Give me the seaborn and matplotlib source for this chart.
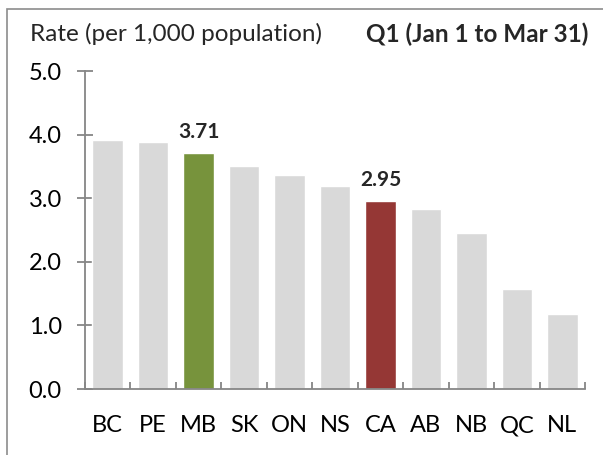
import numpy as np
import pandas as pd
import matplotlib
matplotlib.use("Agg")
import matplotlib.pyplot as plt
from matplotlib.patches import Rectangle
import seaborn as sns

# ── DATA ─────────────────────────────────────────────────────
provinces = ["BC", "PE", "MB", "SK", "ON", "NS", "CA", "AB", "NB", "QC", "NL"]
rates     = [3.92, 3.89, 3.71, 3.50, 3.37, 3.19, 2.95, 2.83, 2.46, 1.58, 1.18]
labelled  = {"MB": "3.71", "CA": "2.95"}

GREY  = "#D9D9D9"
GREEN = "#77933C"
RED   = "#953735"
AXIS  = "#868686"

colors = {p: GREY for p in provinces}
colors["MB"] = GREEN
colors["CA"] = RED

df = pd.DataFrame({"prov": provinces, "rate": rates})

# ── STYLE ────────────────────────────────────────────────────
sns.set_style("white")
plt.rcParams["font.family"] = ["Lato", "DejaVu Sans"]

W, H = 603, 455
fig = plt.figure(figsize=(W / 100, H / 100), dpi=100)
ax = fig.add_axes([85 / W, 1 - 389 / H, 500 / W, (389 - 71) / H])

sns.barplot(data=df, x="prov", y="rate", hue="prov", palette=colors,
            legend=False, width=0.67, saturation=1, ax=ax)

ax.set_ylim(0, 5.0)
ax.set_xlim(-0.5, len(provinces) - 0.5)
ax.set_yticks(np.arange(0, 5.01, 1.0))
ax.set_yticklabels([f"{v:.1f}" for v in np.arange(0, 5.01, 1.0)])
ax.set_xlabel("")
ax.set_ylabel("")

for s in ["top", "right"]:
    ax.spines[s].set_visible(False)
for s in ["left", "bottom"]:
    ax.spines[s].set_color(AXIS)
    ax.spines[s].set_linewidth(1.3)

ax.tick_params(axis="y", left=True, direction="inout", length=11.5,
               width=1.3, color=AXIS, labelsize=17, pad=11,
               labelcolor="black")
ax.tick_params(axis="x", which="major", bottom=False, length=0,
               labelsize=17, pad=19, labelcolor="black")
ax.set_xticks(np.arange(-0.5, len(provinces), 1.0), minor=True)
ax.tick_params(axis="x", which="minor", bottom=True, direction="in",
               length=5, width=1.3, color=AXIS)

# value labels on highlighted bars
for i, p in enumerate(provinces):
    if p in labelled:
        ax.annotate(labelled[p], (i, rates[i]), xytext=(0, 8),
                    textcoords="offset points", ha="center", va="bottom",
                    fontsize=15, fontweight="bold")

fig.text(30 / W, 1 - 34 / H, "Rate (per 1,000 population)",
         fontsize=17.5, va="center", ha="left")
fig.text(588 / W, 1 - 34 / H, "Q1 (Jan 1 to Mar 31)",
         fontsize=17.5, fontweight="bold", va="center", ha="right")

# outer frame (cut off at right and bottom like the source)
fig.patches.append(Rectangle((7 / W, -0.1), 1.2, 1 - 9 / H + 0.1,
                             transform=fig.transFigure, fill=False,
                             edgecolor="#8C8C8C", linewidth=1.2))

fig.savefig("out.png", dpi=100)
